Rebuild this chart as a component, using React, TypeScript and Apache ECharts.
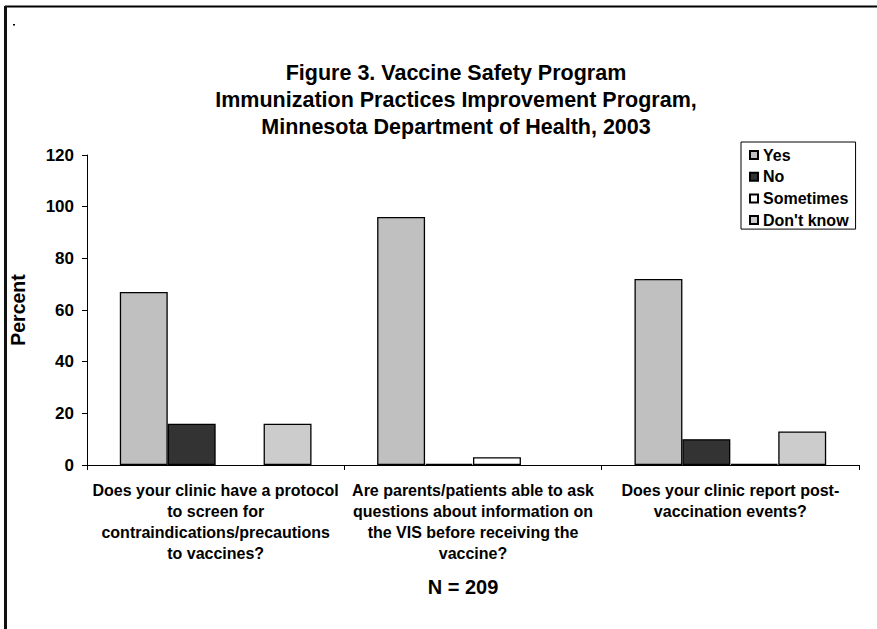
import React, { useEffect, useRef } from "react";
import * as echarts from "echarts";

const categories = [
  "Does your clinic have a protocol\nto screen for\ncontraindications/precautions\nto vaccines?",
  "Are parents/patients able to ask\nquestions about information on\nthe VIS before receiving the\nvaccine?",
  "Does your clinic report post-\nvaccination events?",
];
const seriesNames = ["Yes", "No", "Sometimes", "Don't know"];
const yesValues = [67, 96, 72];
const noValues = [16, 0.5, 10];
const sometimesValues = [0, 3, 0.5];
const dontKnowValues = [16, 0, 13];
const seriesColors = ["#C0C0C0", "#333333", "#FFFFFF", "#CCCCCC"];
const titleLines = [
  "Figure 3. Vaccine Safety Program",
  "Immunization Practices Improvement Program,",
  "Minnesota Department of Health, 2003",
];
const yAxisTitle = "Percent";
const footnote = "N = 209";

const FONT = "'Liberation Sans', Arial, sans-serif";

export default function App() {
  const ref = useRef<HTMLDivElement>(null);
  useEffect(() => {
    if (!ref.current) return;
    const chart = echarts.init(ref.current, undefined, { renderer: "svg" });
    const values = [yesValues, noValues, sometimesValues, dontKnowValues];
    chart.setOption({
      animation: false,
      backgroundColor: "#FFFFFF",
      textStyle: { fontFamily: FONT },
      grid: { left: 87, right: 18, top: 155, bottom: 164, containLabel: false },
      legend: {
        orient: "vertical",
        left: 741,
        top: 142,
        padding: [4, 7, 0, 8],
        itemGap: 3.7,
        itemWidth: 8,
        itemHeight: 8,
        icon: "rect",
        borderColor: "#000",
        borderWidth: 1,
        textStyle: { fontFamily: FONT, fontWeight: "bold", fontSize: 16, color: "#000", lineHeight: 18 },
        data: seriesNames,
      },
      xAxis: {
        type: "category",
        data: categories,
        axisLine: { lineStyle: { color: "#000", width: 1 } },
        axisTick: { show: true, length: 5, lineStyle: { color: "#000" } },
        axisLabel: {
          interval: 0,
          margin: 15,
          fontFamily: FONT,
          fontWeight: "bold",
          fontSize: 16,
          lineHeight: 21,
          color: "#000",
          align: "center",
        },
      },
      yAxis: {
        type: "value",
        min: 0,
        max: 120,
        interval: 20,
        splitLine: { show: false },
        axisLine: { show: true, lineStyle: { color: "#000", width: 1 } },
        axisTick: { show: true, length: 5, lineStyle: { color: "#000" } },
        axisLabel: { margin: 13, fontFamily: FONT, fontWeight: "bold", fontSize: 17, color: "#000" },
      },
      series: seriesNames.map((name, i) => ({
        name,
        type: "bar",
        data: values[i].map((v) => (v === 0 ? { value: v, itemStyle: { borderWidth: 0 } } : v)),
        barGap: "0%",
        barCategoryGap: "25.5%",
        itemStyle: { color: seriesColors[i], borderColor: "#000", borderWidth: 1.3 },
      })),
      graphic: [
        { type: "line", shape: { x1: 5, y1: 6.5, x2: 877, y2: 6.5 }, style: { stroke: "#000", lineWidth: 2 } },
        { type: "line", shape: { x1: 5.5, y1: 6, x2: 5.5, y2: 629 }, style: { stroke: "#111", lineWidth: 3 } },
        { type: "rect", shape: { x: 13, y: 24, width: 2, height: 1.5 }, style: { fill: "#000" } },
        {
          type: "text",
          x: 456,
          y: 59,
          style: {
            text: titleLines.join("\n"),
            fontFamily: FONT,
            fontWeight: "bold",
            fontSize: 21.5,
            lineHeight: 27,
            fill: "#000",
            align: "center",
            verticalAlign: "top",
          },
        },
        {
          type: "text",
          x: 18,
          y: 310,
          rotation: Math.PI / 2,
          style: {
            text: yAxisTitle,
            fontFamily: FONT,
            fontWeight: "bold",
            fontSize: 19.5,
            fill: "#000",
            align: "center",
            verticalAlign: "middle",
          },
        },
        {
          type: "text",
          x: 463,
          y: 587,
          style: {
            text: footnote,
            fontFamily: FONT,
            fontWeight: "bold",
            fontSize: 20,
            fill: "#000",
            align: "center",
            verticalAlign: "middle",
          },
        },
      ],
    });
    return () => chart.dispose();
  }, []);
  return (
    <div
      ref={ref}
      style={{ position: "fixed", left: 0, top: 0, width: 877, height: 629, background: "#fff" }}
    />
  );
}
